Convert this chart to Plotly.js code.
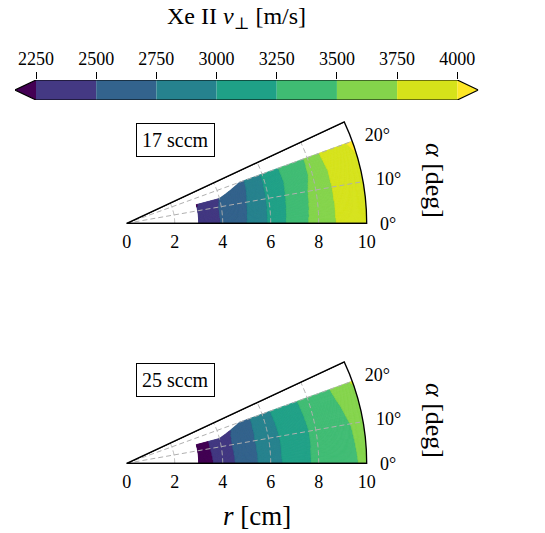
<!DOCTYPE html>
<html><head><meta charset="utf-8">
<script src="https://cdn.plot.ly/plotly-3.0.1.min.js"></script>
<style>html,body{margin:0;padding:0;background:#fff}</style>
</head><body><div id="chart" style="width:545px;height:533px"></div>
<script>
// ---------------- data ----------------
const levels = [2250, 2500, 2750, 3000, 3250, 3500, 3750, 4000];
const bandColors = ['#443983', '#33638d', '#26828e', '#1fa187', '#3fbc73', '#84d44b', '#d6e21a'];
const underColor = '#440154';
const overColor = '#fde725';
const cbarTitle = 'Xe II <i>v</i><sub>⊥</sub> [m/s]';

const rGrid = [3, 4, 5, 6, 7, 8, 9, 10];      // r [cm]
const alphaGrid = [0, 5, 10, 15, 20];          // alpha [deg]

// 17 sccm, Xe II v_perp [m/s], one row per alpha
const v17_a0  = [2295, 2523, 2750, 3042, 3369, 3598, 3810, 3930];
const v17_a5  = [2290, 2527, 2740, 3040, 3355, 3590, 3820, 3945];
const v17_a10 = [2280, 2530, 2730, 3036, 3341, 3583, 3830, 3960];
const v17_a15 = [2230, 2510, 2700, 3030, 3320, 3540, 3860, 3990];
const v17_a20 = [null, null, 2680, 3030, 3340, 3530, 3950, 4020];

// 25 sccm
const v25_a0  = [2080, 2359, 2631, 2882, 3131, 3308, 3424, 3541];
const v25_a5  = [2090, 2370, 2637, 2888, 3130, 3304, 3432, 3555];
const v25_a10 = [2100, 2382, 2643, 2895, 3130, 3300, 3440, 3570];
const v25_a15 = [2110, 2380, 2630, 2905, 3140, 3315, 3460, 3640];
const v25_a20 = [null, null, 2600, 2920, 3150, 3330, 3500, 3780];

const flowLabels = ['17 sccm', '25 sccm'];
const rTicks = [0, 2, 4, 6, 8, 10];
const alphaTicks = [0, 10, 20];
const sector = [0, 25];

// ---------------- helpers ----------------
function colorOf(v) {
  if (v < levels[0]) return underColor;
  if (v >= levels[levels.length - 1]) return overColor;
  for (let i = 0; i < levels.length - 1; i++) if (v < levels[i + 1]) return bandColors[i];
  return overColor;
}
function locate(arr, x) {
  let i = 0;
  while (i < arr.length - 2 && x > arr[i + 1]) i++;
  return i;
}
function sample(rows, r, a) {
  const i = locate(alphaGrid, a), j = locate(rGrid, r);
  const u = (r - rGrid[j]) / (rGrid[j + 1] - rGrid[j]);
  const v = (a - alphaGrid[i]) / (alphaGrid[i + 1] - alphaGrid[i]);
  const A = rows[i][j], B = rows[i][j + 1], C = rows[i + 1][j], D = rows[i + 1][j + 1];
  const ok = [A, B, C, D].map(x => x !== null);
  const n = ok.filter(Boolean).length;
  if (n === 4) return A * (1 - u) * (1 - v) + B * u * (1 - v) + C * (1 - u) * v + D * u * v;
  if (n !== 3) return null;
  if (!ok[2]) return v <= u ? A + (B - A) * (u - v) + (D - A) * v : null;
  if (!ok[1]) return v >= u ? A + (C - A) * (v - u) + (D - A) * u : null;
  if (!ok[0]) return u + v >= 1 ? D + (B - D) * (1 - v) + (C - D) * (1 - u) : null;
  return u + v <= 1 ? A + (B - A) * u + (C - A) * v : null;
}
function contourBars(rows, subplot) {
  const dA = 0.25, dR = 0.02;
  const aMin = alphaGrid[0], aMax = alphaGrid[alphaGrid.length - 1];
  const rMin = rGrid[0], rMax = rGrid[rGrid.length - 1];
  const nA = Math.round((aMax - aMin) / dA), nR = Math.round((rMax - rMin) / dR);
  const th = [], base = [], len = [], col = [];
  for (let p = 0; p < nA; p++) {
    const a = aMin + (p + 0.5) * dA;
    let start = null, cur = null;
    for (let k = 0; k <= nR; k++) {
      let c = null;
      if (k < nR) {
        const val = sample(rows, rMin + (k + 0.5) * dR, a);
        c = val === null ? null : colorOf(val);
      }
      const r = rMin + k * dR;
      if (k === nR || c !== cur) {
        if (cur !== null) { th.push(a); base.push(start); len.push(r - start); col.push(cur); }
        start = r; cur = c;
      }
    }
  }
  return {type: 'barpolar', subplot: subplot, theta: th, base: base, r: len, width: dA,
    marker: {color: col, line: {color: col, width: 0.7}}, hoverinfo: 'skip', showlegend: false};
}
function gridTraces(subplot) {
  const out = [];
  const gl = {color: '#b0b0b0', width: 1, dash: '5px,3px'};
  rTicks.filter(r => r > 0 && r < rTicks[rTicks.length - 1]).forEach(r => {
    const th = [], rr = [];
    for (let t = sector[0]; t <= sector[1] + 1e-9; t += 0.5) { th.push(t); rr.push(r); }
    out.push({type: 'scatterpolar', subplot, mode: 'lines', r: rr, theta: th, line: gl, hoverinfo: 'skip', showlegend: false});
  });
  alphaTicks.filter(a => a > sector[0]).forEach(a => {
    out.push({type: 'scatterpolar', subplot, mode: 'lines', r: [0, rTicks[rTicks.length - 1]], theta: [a, a], line: gl, hoverinfo: 'skip', showlegend: false});
  });
  out.push({type: 'scatterpolar', subplot, mode: 'lines', r: [0, rTicks[rTicks.length - 1]], theta: [sector[1], sector[1]],
    line: {color: '#000', width: 1.3}, hoverinfo: 'skip', showlegend: false});
  return out;
}

// ---------------- geometry (pixels) ----------------
const W = 545, H = 533;
const R10 = 240;                       // px for r = 10
const ox = 126.7, oy1 = 223.3, oy2 = 463.3;
const sectorH = R10 * Math.sin(sector[1] * Math.PI / 180);
const cbL = 36, cbR = 457.3, cbTop = 80, cbBot = 100, tipLen = 21;

const span = levels[levels.length - 1] - levels[0];
const ext = span * tipLen / (cbR - cbL);

const traces = [];
// colorbar
traces.push({type: 'bar', orientation: 'h', xaxis: 'x', yaxis: 'y',
  y: bandColors.map(() => 0.5), x: levels.slice(1).map((l, i) => l - levels[i]), base: levels.slice(0, -1),
  width: 1, marker: {color: bandColors, line: {width: 0}}, hoverinfo: 'skip', showlegend: false});
const L0 = levels[0], L1 = levels[levels.length - 1];
traces.push({type: 'scatter', mode: 'lines', x: [L0, L0 - ext, L0, L0], y: [0, 0.5, 1, 0], fill: 'toself',
  fillcolor: underColor, line: {width: 0}, hoverinfo: 'skip', showlegend: false});
traces.push({type: 'scatter', mode: 'lines', x: [L1, L1 + ext, L1, L1], y: [0, 0.5, 1, 0], fill: 'toself',
  fillcolor: overColor, line: {width: 0}, hoverinfo: 'skip', showlegend: false});
traces.push({type: 'scatter', mode: 'lines', x: [L0, L1, L1 + ext, L1, L0, L0 - ext, L0], y: [0, 0, 0.5, 1, 1, 0.5, 0],
  line: {color: '#000', width: 1.2}, hoverinfo: 'skip', showlegend: false});

// polar plots
const rows17 = [v17_a0, v17_a5, v17_a10, v17_a15, v17_a20];
const rows25 = [v25_a0, v25_a5, v25_a10, v25_a15, v25_a20];
traces.push(contourBars(rows17, 'polar'));
traces.push(...gridTraces('polar'));
traces.push(contourBars(rows25, 'polar2'));
traces.push(...gridTraces('polar2'));

function polarLayout(oy) {
  return {
    domain: {x: [ox / W, (ox + R10) / W], y: [1 - oy / H, 1 - (oy - sectorH) / H]},
    sector: sector, bgcolor: '#fff', barmode: 'overlay', hole: 0,
    radialaxis: {range: [0, 10], tickmode: 'array', tickvals: rTicks, angle: 0, side: 'clockwise',
      showline: true, linecolor: '#000', linewidth: 1.3, showgrid: false,
      ticks: 'outside', ticklen: 2, tickcolor: 'rgba(0,0,0,0)', tickfont: {size: 18, color: '#000'}, tickangle: 0},
    angularaxis: {tickmode: 'array', tickvals: alphaTicks, ticktext: alphaTicks.map(a => a + '°'),
      direction: 'counterclockwise', rotation: 0, thetaunit: 'degrees',
      showline: true, linecolor: '#000', linewidth: 1.3, showgrid: false,
      ticks: 'outside', ticklen: 9, tickcolor: 'rgba(0,0,0,0)', tickfont: {size: 18, color: '#000'}}
  };
}

const layout = {
  width: W, height: H, margin: {l: 0, r: 0, t: 0, b: 0},
  paper_bgcolor: '#fff', plot_bgcolor: 'rgba(0,0,0,0)',
  font: {family: 'Liberation Serif, DejaVu Serif, serif', color: '#000', size: 18},
  showlegend: false, barmode: 'overlay',
  xaxis: {domain: [(cbL - tipLen) / W, (cbR + tipLen) / W], range: [L0 - ext, L1 + ext], side: 'top',
    tickmode: 'array', tickvals: levels, ticks: 'outside', ticklen: 7, tickwidth: 1, tickcolor: '#000',
    showgrid: false, zeroline: false, showline: false, tickfont: {size: 18}, fixedrange: true},
  yaxis: {domain: [1 - cbBot / H, 1 - cbTop / H], range: [0, 1], visible: false, fixedrange: true},
  polar: polarLayout(oy1),
  polar2: polarLayout(oy2),
  annotations: [
    {text: cbarTitle, x: 236 / W, y: 1 - 18 / H, xref: 'paper', yref: 'paper', showarrow: false,
      xanchor: 'center', yanchor: 'middle', font: {size: 24}},
    {text: flowLabels[0], x: 175 / W, y: 1 - 140 / H, xref: 'paper', yref: 'paper', showarrow: false,
      xanchor: 'center', yanchor: 'middle', font: {size: 20}, bordercolor: '#000', borderwidth: 1, borderpad: 5, bgcolor: '#fff'},
    {text: flowLabels[1], x: 175 / W, y: 1 - 380 / H, xref: 'paper', yref: 'paper', showarrow: false,
      xanchor: 'center', yanchor: 'middle', font: {size: 20}, bordercolor: '#000', borderwidth: 1, borderpad: 5, bgcolor: '#fff'},
    {text: '<i>α</i> [deg]', x: 435 / W, y: 1 - 180 / H, xref: 'paper', yref: 'paper', showarrow: false,
      xanchor: 'center', yanchor: 'middle', textangle: 90, font: {size: 26}},
    {text: '<i>α</i> [deg]', x: 435 / W, y: 1 - 420 / H, xref: 'paper', yref: 'paper', showarrow: false,
      xanchor: 'center', yanchor: 'middle', textangle: 90, font: {size: 26}},
    {text: '<i>r</i> [cm]', x: 257 / W, y: 1 - 516 / H, xref: 'paper', yref: 'paper', showarrow: false,
      xanchor: 'center', yanchor: 'middle', font: {size: 27}}
  ]
};

Plotly.newPlot('chart', traces, layout, {staticPlot: true, displayModeBar: false});
</script></body></html>
